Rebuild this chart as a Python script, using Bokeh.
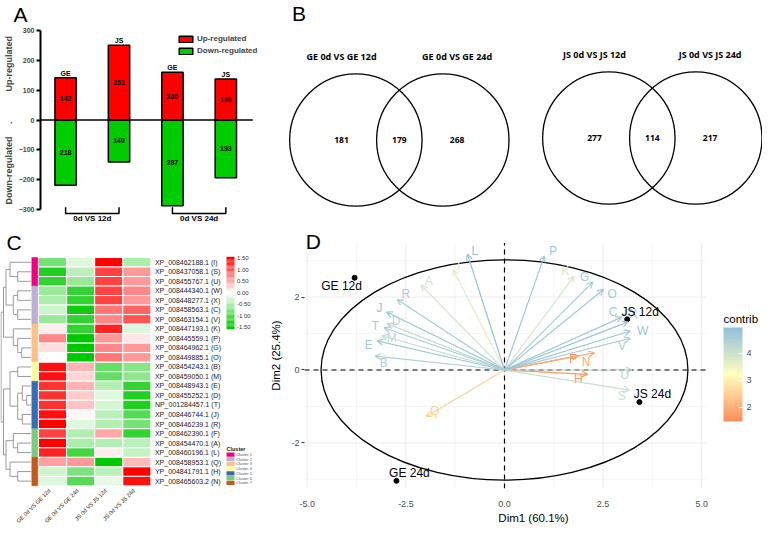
import numpy as np
from bokeh.plotting import figure
from bokeh.models import (Range1d, ColumnDataSource, Legend, LegendItem, Arrow,
                          OpenHead, LinearColorMapper, ColorBar, FixedTicker,
                          PrintfTickFormatter, Title)
from bokeh.layouts import row, column
from bokeh.embed import file_html
from bokeh.resources import INLINE
from bokeh.core.properties import value

# ---------------- data: panel A ----------------
bar_groups = ["GE", "JS", "GE", "JS"]
bar_x = [1, 2, 3, 4]
up_regulated = [142, 251, 160, 138]
down_regulated = [218, 140, 287, 193]
comparison_labels = ["0d VS 12d", "0d VS 24d"]
y_ticks_A = [-300, -200, -100, 0, 100, 200, 300]

# ---------------- data: panel B ----------------
venn_titles_left = ["GE 0d VS GE 12d", "JS 0d VS JS 12d"]
venn_titles_right = ["GE 0d VS GE 24d", "JS 0d VS JS 24d"]
venn_only_left = [181, 277]
venn_overlap = [179, 114]
venn_only_right = [268, 217]

# ---------------- data: panel C ----------------
heat_columns = ["GE 0d VS GE 12d", "GE 0d VS GE 24d", "JS 0d VS JS 12d", "JS 0d VS JS 24d"]
heat_genes = ["XP_008462188.1 (I)", "XP_008437058.1 (S)", "XP_008455767.1 (U)",
              "XP_008444340.1 (W)", "XP_008448277.1 (X)", "XP_008458563.1 (C)",
              "XP_008463154.1 (V)", "XP_008447193.1 (K)", "XP_008445559.1 (P)",
              "XP_008464962.1 (G)", "XP_008449885.1 (O)", "XP_008454243.1 (B)",
              "XP_008459050.1 (M)", "XP_008448943.1 (E)", "XP_008455252.1 (D)",
              "NP_001284457.1 (T)", "XP_008446744.1 (J)", "XP_008446239.1 (R)",
              "XP_008462390.1 (F)", "XP_008454470.1 (A)", "XP_008460196.1 (L)",
              "XP_008458953.1 (Q)", "YP_004841791.1 (H)", "XP_008465603.2 (N)"]
heat_cluster = [1, 1, 1, 2, 2, 2, 2, 3, 3, 3, 3, 4, 4, 5, 5, 5, 5, 5, 6, 6, 6, 7, 7, 7]
heat_values = [
    [-0.8, -0.2, 1.5, -0.5],
    [-1.3, -0.4, 1.1, 0.6],
    [-1.2, -0.6, 1.1, 0.6],
    [-0.6, -1.2, 1.1, 0.7],
    [-0.5, -1.2, 1.1, 0.6],
    [-0.3, -1.4, 0.8, 0.9],
    [-0.6, -1.2, 0.7, 1.0],
    [0.1, -1.2, 1.3, -0.2],
    [0.7, -1.5, 0.6, 0.15],
    [0.2, -1.5, 0.7, 0.6],
    [0.0, -1.5, 0.8, 0.6],
    [1.4, 0.45, -0.9, -0.7],
    [1.4, 0.25, -0.9, -0.65],
    [1.2, 0.45, -0.45, -1.2],
    [1.2, 0.3, -0.2, -1.3],
    [1.2, 0.35, -0.25, -1.3],
    [1.4, 0.05, -0.4, -1.0],
    [1.5, -0.2, -0.45, -0.8],
    [1.1, -0.45, 0.5, -1.2],
    [1.5, -0.5, -0.45, -0.4],
    [1.3, -1.1, 0.1, -0.35],
    [0.55, 0.6, -1.5, 0.4],
    [-0.3, -0.75, -0.4, 1.5],
    [-0.2, -1.0, -0.15, 1.4],
]
# dendrogram merges (ids 0-23 are rows, 24+ are merges in order)
dendro_left = [1, 0, 3, 5, 26, 25, 9, 8, 7, 29, 11, 14, 13, 16, 36, 34, 19, 18, 22, 21, 41, 39, 33]
dendro_right = [2, 24, 4, 6, 27, 28, 10, 30, 31, 32, 12, 15, 35, 17, 37, 38, 20, 40, 23, 42, 43, 44, 45]
dendro_height = [13.3, 21, 13.3, 13.3, 17.7, 25, 9.3, 13.3, 17.7, 27.5, 13.3, 4.3, 8.7, 8.7,
                 13.3, 21, 13.3, 17.7, 13.3, 21, 25, 27.5, 30]
cluster_names = ["Cluster 1", "Cluster 2", "Cluster 3", "Cluster 4", "Cluster 5", "Cluster 6", "Cluster 7"]
cluster_colors = ["#F0027F", "#BEAED4", "#FDC086", "#FFFF99", "#386CB0", "#7FC97F", "#BF5B17"]
heat_legend_ticks = [1.5, 1.0, 0.5, 0.0, -0.5, -1.0, -1.5]

# ---------------- data: panel D ----------------
pca_var_names = ["A", "B", "C", "D", "E", "F", "G", "H", "I", "J", "K", "L",
                 "M", "N", "O", "P", "Q", "R", "S", "T", "U", "V", "W", "X"]
pca_var_x = [-2.11, -3.28, 2.97, -2.97, -3.23, 1.87, 2.24, 2.11, -1.30, -2.99, 1.76, -0.94,
             -3.11, 2.28, 2.51, 1.01, -1.99, -2.72, 3.17, -3.05, 3.23, 3.19, 3.19, 3.13]
pca_var_y = [2.32, 0.38, 1.45, 1.27, 0.80, 0.39, 2.41, -0.12, 2.75, 1.59, 2.57, 3.18,
             0.94, 0.47, 2.21, 3.13, -1.28, 1.93, -0.55, 1.16, 0.00, 0.87, 1.07, 1.32]
pca_var_contrib = [3.9, 4.5, 4.7, 4.3, 4.7, 1.5, 4.6, 1.6, 3.7, 4.8, 3.9, 4.9,
                   4.2, 1.9, 4.7, 4.8, 2.5, 4.6, 4.1, 4.6, 4.3, 4.6, 4.8, 4.8]
pca_var_label_x = [-1.92, -3.06, 2.75, -2.75, -3.44, 1.73, 2.03, 1.87, -1.16, -3.17, 1.54, -0.75,
                   -2.86, 2.07, 2.73, 1.23, -1.77, -2.50, 2.97, -3.27, 3.05, 2.98, 3.50, 3.27]
pca_var_label_y = [2.44, 0.20, 1.58, 1.33, 0.69, 0.31, 2.56, -0.25, 2.86, 1.70, 2.72, 3.27,
                   0.87, 0.23, 2.08, 3.27, -1.13, 2.08, -0.70, 1.21, -0.13, 0.67, 1.07, 1.54]
pca_ind_names = ["GE 12d", "GE 24d", "JS 12d", "JS 24d"]
pca_ind_x = [-3.80, -2.74, 3.11, 3.42]
pca_ind_y = [2.53, -3.04, 1.39, -0.88]
pca_ind_label_x = [-4.13, -2.41, 3.44, 3.75]
pca_ind_label_y = [2.30, -2.82, 1.59, -0.66]
pca_x_ticks = [-5.0, -2.5, 0.0, 2.5, 5.0]
pca_x_minor = [-3.75, -1.25, 1.25, 3.75]
pca_y_ticks = [-2, 0, 2]
pca_y_minor = [-3, -1, 1, 3]
contrib_ticks = [2, 3, 4]


def ramp(colors, n):
    cs = [tuple(int(c[i:i + 2], 16) for i in (1, 3, 5)) for c in colors]
    out = []
    for k in range(n):
        t = k / (n - 1) * (len(cs) - 1)
        i = min(int(t), len(cs) - 2)
        f = t - i
        rgb = [int(round(cs[i][m] + (cs[i + 1][m] - cs[i][m]) * f)) for m in range(3)]
        out.append("#%02x%02x%02x" % tuple(rgb))
    return out


SANS = "Liberation Sans"
NB = "\u00a0"

# ======================= Panel A =======================
pA = figure(width=260, height=222, x_range=Range1d(0.53, 4.649), y_range=Range1d(-343, 316.8),
            x_axis_type=None, output_backend="svg", toolbar_location=None,
            min_border_left=31, min_border_right=0, min_border_top=0, min_border_bottom=0)
pA.title = Title(text="A", align="left", offset=-27, standoff=0, text_font=SANS,
                 text_font_size="21px", text_font_style="normal", text_color="black")
pA.outline_line_color = None
pA.ygrid.visible = False
ya = pA.yaxis[0]
ya.ticker = FixedTicker(ticks=y_ticks_A)
ya.bounds = (-300, 300)
ya.axis_line_width = 2
ya.major_tick_line_width = 2
ya.major_tick_out = 4
ya.major_tick_in = 0
ya.minor_tick_line_color = None
ya.major_label_text_font = SANS
ya.major_label_text_font_style = "bold"
ya.major_label_text_font_size = "7px"
ya.major_label_standoff = 2
ya.axis_label = NB * 3 + "Down-regulated" + NB * 5 + "." + NB * 12 + "Up-regulated"
ya.axis_label_text_font = SANS
ya.axis_label_text_font_style = "bold"
ya.axis_label_text_font_size = "9px"
ya.axis_label_standoff = 2

srcA = ColumnDataSource(dict(
    x=bar_x, up=up_regulated, down=[-d for d in down_regulated], grp=bar_groups,
    up_lbl=[str(v) for v in up_regulated], down_lbl=[str(v) for v in down_regulated],
    up_mid=[v / 2 for v in up_regulated], down_mid=[-d / 2 for d in down_regulated],
    grp_y=[v + 3 for v in up_regulated]))
r_up = pA.vbar(x="x", width=0.4, top="up", bottom=0, source=srcA,
               fill_color="#FF0000", line_color="black", line_width=1.5)
r_dn = pA.vbar(x="x", width=0.4, top=0, bottom="down", source=srcA,
               fill_color="#00CC00", line_color="black", line_width=1.5)
pA.segment(x0=[0.53], y0=[0], x1=[4.505], y1=[0], line_color="black", line_width=1.5)
for col, yname in (("up_lbl", "up_mid"), ("down_lbl", "down_mid")):
    pA.text(x="x", y=yname, text=col, source=srcA, text_align="center", text_baseline="middle",
            text_font=value(SANS), text_font_style="bold", text_font_size="7px", text_color="black")
pA.text(x="x", y="grp_y", text="grp", source=srcA, text_align="center", text_baseline="bottom",
        text_font=value(SANS), text_font_style="bold", text_font_size="7px", text_color="black")

br_xs, br_ys, br_tx = [], [], []
for i in range(len(comparison_labels)):
    xa, xb = bar_x[2 * i], bar_x[2 * i + 1]
    br_xs.append([xa, xa, xb, xb])
    br_ys.append([-292, -313, -313, -292])
    br_tx.append((xa + xb) / 2)
pA.multi_line(br_xs, br_ys, line_color="black", line_width=1.5)
pA.text(x=br_tx, y=[-329] * len(br_tx), text=comparison_labels, text_align="center",
        text_baseline="middle", text_font=value(SANS), text_font_style="bold",
        text_font_size="8px", text_color="black")

legA = Legend(items=[LegendItem(label="Up-regulated", renderers=[r_up]),
                     LegendItem(label="Down-regulated", renderers=[r_dn])],
              location=(137, 167), border_line_color=None, background_fill_alpha=0,
              padding=0, margin=0, spacing=3, glyph_width=17, glyph_height=8,
              label_height=8, label_width=72, label_standoff=3, label_text_font=SANS,
              label_text_font_style="bold", label_text_font_size="8px")
pA.add_layout(legA)

# ======================= Panel B =======================
pB = figure(width=502, height=222, x_range=Range1d(271, 779), y_range=Range1d(222, 0),
            x_axis_type=None, y_axis_type=None, output_backend="svg",
            toolbar_location=None, min_border=0)
pB.outline_line_color = None
venn_cx = [367.5, 623.5]
venn_cy = [139.5, 137.5]
venn_gap = 88
venn_r = 67
cx_all, cy_all = [], []
for cx, cy in zip(venn_cx, venn_cy):
    cx_all += [cx, cx + venn_gap]
    cy_all += [cy, cy]
pB.circle(x=cx_all, y=cy_all, radius=venn_r, fill_alpha=0, line_color="black", line_width=1.3)
tx, ty, tt = [], [], []
nx, ny, nt = [], [], []
for k, (cx, cy) in enumerate(zip(venn_cx, venn_cy)):
    tx += [cx - 14.5, cx + venn_gap + 14.5]
    ty += [cy - 84, cy - 84]
    tt += [venn_titles_left[k], venn_titles_right[k]]
    nx += [cx - 14.5, cx + venn_gap / 2, cx + venn_gap + 14.5]
    ny += [cy, cy, cy]
    nt += [str(venn_only_left[k]), str(venn_overlap[k]), str(venn_only_right[k])]
pB.text(x=tx, y=ty, text=tt, text_align="center", text_baseline="middle",
        text_font=value("Open Sans"), text_font_style="bold", text_font_size="9px", text_color="black")
pB.text(x=nx, y=ny, text=nt, text_align="center", text_baseline="middle",
        text_font=value("Open Sans"), text_font_style="bold", text_font_size="8.5px", text_color="black")
pB.text(x=[303], y=[1], text=["B"], text_align="left", text_baseline="top",
        text_font=value(SANS), text_font_size="21px", text_color="black")

# ======================= Panel C =======================
pC = figure(width=260, height=304, x_range=Range1d(6, 266), y_range=Range1d(538, 222),
            x_axis_type=None, y_axis_type=None, output_backend="svg",
            toolbar_location=None, min_border=0)
pC.outline_line_color = None
heat_x0, cell_w = 44.0, 28.1
heat_y0, cell_h = 258.4, 9.89
leaf_x = 36.5
heat_palette = ramp(["#00C800", "#FFFFFF", "#FF0000"], 255)
heat_mapper = LinearColorMapper(palette=heat_palette, low=-1.5, high=1.5)
cl, cr, ct, cb_, cv = [], [], [], [], []
for i, rowv in enumerate(heat_values):
    for j, v in enumerate(rowv):
        cl.append(heat_x0 + j * cell_w)
        cr.append(heat_x0 + (j + 1) * cell_w)
        ct.append(heat_y0 + i * cell_h)
        cb_.append(heat_y0 + (i + 1) * cell_h)
        cv.append(v)
heat_src = ColumnDataSource(dict(l=cl, r=cr, t=ct, b=cb_, v=cv))
pC.quad(left="l", right="r", top="t", bottom="b", source=heat_src,
        fill_color={"field": "v", "transform": heat_mapper}, line_color="white", line_width=1)
n_rows = len(heat_genes)
row_top = [heat_y0 + i * cell_h for i in range(n_rows)]
row_bot = [heat_y0 + (i + 1) * cell_h for i in range(n_rows)]
row_col = [cluster_colors[c - 1] for c in heat_cluster]
pC.quad(left=[37.3] * n_rows, right=[43.3] * n_rows, top=row_top, bottom=row_bot,
        fill_color=row_col, line_color=row_col, line_width=0.5)
row_mid = [heat_y0 + (i + 0.5) * cell_h for i in range(n_rows)]
pC.text(x=[heat_x0 + 4 * cell_w + 4] * n_rows, y=row_mid, text=heat_genes, text_align="left",
        text_baseline="middle", text_font=value(SANS), text_font_size="7px", text_color="#222222")
col_mid = [heat_x0 + (j + 0.5) * cell_w - 3 for j in range(len(heat_columns))]
pC.text(x=col_mid, y=[heat_y0 + n_rows * cell_h + 4] * len(col_mid), text=heat_columns,
        angle=np.pi / 4, text_align="right", text_baseline="middle",
        text_font=value(SANS), text_font_size="5.6px", text_color="#222222")
node_y = {i: row_mid[i] for i in range(n_rows)}
node_h = {i: 0.0 for i in range(n_rows)}
dx0, dy0, dx1, dy1 = [], [], [], []
for k, (a, b, h) in enumerate(zip(dendro_left, dendro_right, dendro_height)):
    nid = n_rows + k
    xh = leaf_x - h
    dx0 += [xh, xh, xh]
    dy0 += [node_y[a], node_y[a], node_y[b]]
    dx1 += [xh, leaf_x - node_h[a], leaf_x - node_h[b]]
    dy1 += [node_y[b], node_y[a], node_y[b]]
    node_y[nid] = (node_y[a] + node_y[b]) / 2
    node_h[nid] = h
pC.segment(x0=dx0, y0=dy0, x1=dx1, y1=dy1, line_color="#9a9a9a", line_width=1)
lg_top, lg_bot = 1.56, -1.58
steps = 60
lv = [lg_top - (lg_top - lg_bot) * (s + 0.5) / steps for s in range(steps)]
ly_t = [295 - (lg_top - (lg_top - lg_bot) * s / steps) * 24 for s in range(steps)]
ly_b = [295 - (lg_top - (lg_top - lg_bot) * (s + 1) / steps) * 24 for s in range(steps)]
leg_src = ColumnDataSource(dict(l=[232] * steps, r=[240] * steps, t=ly_t, b=ly_b, v=lv))
pC.quad(left="l", right="r", top="t", bottom="b", source=leg_src,
        fill_color={"field": "v", "transform": heat_mapper}, line_color=None)
pC.text(x=[242.5] * len(heat_legend_ticks), y=[295 - t * 24 for t in heat_legend_ticks],
        text=["%.2f" % t for t in heat_legend_ticks], text_align="left", text_baseline="middle",
        text_font=value(SANS), text_font_size="6px", text_color="#333333")
pC.text(x=[232], y=[457.5], text=["Cluster"], text_align="left", text_baseline="middle",
        text_font=value(SANS), text_font_style="bold", text_font_size="5.5px", text_color="#222222")
kk = range(len(cluster_names))
pC.quad(left=[232] * 7, right=[240] * 7, top=[461 + k * 4.9 for k in kk],
        bottom=[465.4 + k * 4.9 for k in kk], fill_color=cluster_colors, line_color=None)
pC.text(x=[241.5] * 7, y=[463.2 + k * 4.9 for k in kk], text=cluster_names, text_align="left",
        text_baseline="middle", text_font=value(SANS), text_font_size="4px", text_color="#555555")
pC.text(x=[12], y=[231], text=["C"], text_align="left", text_baseline="top",
        text_font=value(SANS), text_font_size="21px", text_color="black")

# ======================= Panel D =======================
xr0, xr1 = -5.07, 5.12      # panel extent
yr0, yr1 = -3.25, 3.48
pD = figure(width=502, height=304, x_range=Range1d(xr0, 6.54), y_range=Range1d(yr0, 4.045),
            output_backend="svg", toolbar_location=None,
            min_border_left=44, min_border_right=0, min_border_top=0, min_border_bottom=33)
pD.outline_line_color = None
pD.grid.visible = False
pD.xaxis.ticker = FixedTicker(ticks=pca_x_ticks)
pD.yaxis.ticker = FixedTicker(ticks=pca_y_ticks)
pD.xaxis.formatter = PrintfTickFormatter(format="%.1f")
pD.yaxis.formatter = PrintfTickFormatter(format="%d")
pD.xaxis.bounds = (xr0, xr1)
pD.yaxis.bounds = (yr0, yr1)
for ax in (pD.xaxis[0], pD.yaxis[0]):
    ax.axis_line_color = None
    ax.minor_tick_line_color = None
    ax.major_label_text_font = SANS
    ax.major_label_text_font_size = "9px"
    ax.major_label_text_color = "#4D4D4D"
    ax.axis_label_text_font = SANS
    ax.axis_label_text_font_size = "11.5px"
    ax.axis_label_text_font_style = "normal"
    ax.axis_label_text_color = "black"
pD.xaxis.major_tick_line_color = None
pD.xaxis.major_label_standoff = 6
pD.xaxis.axis_label = "Dim1 (60.1%)"
pD.xaxis.axis_label_standoff = 2
pD.yaxis.major_tick_line_color = "#333333"
pD.yaxis.major_tick_out = 3
pD.yaxis.major_tick_in = 0
pD.yaxis.major_label_standoff = 2
pD.yaxis.axis_label = "Dim2 (25.4%)"
pD.yaxis.axis_label_standoff = 6

gx = pca_x_minor + pca_x_ticks
gw = [0.5] * len(pca_x_minor) + [1.0] * len(pca_x_ticks)
pD.segment(x0=gx, y0=[yr0] * len(gx), x1=gx, y1=[yr1] * len(gx), line_color="#EBEBEB", line_width=gw)
gy = pca_y_minor + pca_y_ticks
gwy = [0.5] * len(pca_y_minor) + [1.0] * len(pca_y_ticks)
pD.segment(x0=[xr0] * len(gy), y0=gy, x1=[xr1] * len(gy), y1=gy, line_color="#EBEBEB", line_width=gwy)

pD.ellipse(x=0, y=0, width=9.3, height=6.04, fill_alpha=0, line_color="black", line_width=1.3)
pD.segment(x0=[xr0, 0], y0=[0, yr0], x1=[xr1, 0], y1=[0, yr1], line_color="black",
           line_width=1.2, line_dash="5 4")

contrib_palette = ramp(["#FC8D59", "#FFFFBF", "#91BFDB"], 256)
c_low, c_high = 1.48, 4.96
contrib_colors = [contrib_palette[int(round((v - c_low) / (c_high - c_low) * 255))]
                  for v in pca_var_contrib]
for xe, ye, col in zip(pca_var_x, pca_var_y, contrib_colors):
    pD.add_layout(Arrow(end=OpenHead(size=6, line_color=col, line_width=1.2),
                        x_start=0, y_start=0, x_end=xe, y_end=ye,
                        line_color=col, line_width=1.2))
pD.text(x=pca_var_label_x, y=pca_var_label_y, text=pca_var_names, text_color=contrib_colors,
        text_align="center", text_baseline="middle", text_font=value(SANS), text_font_size="12px")
pD.scatter(x=pca_ind_x, y=pca_ind_y, size=5, color="black")
pD.text(x=pca_ind_label_x, y=pca_ind_label_y, text=pca_ind_names, text_color="black",
        text_align="center", text_baseline="middle", text_font=value(SANS), text_font_size="12px")
pD.text(x=[xr0 + 0.03], y=[3.83], text=["D"], text_align="left", text_baseline="top",
        text_font=value(SANS), text_font_size="21px", text_color="black")

contrib_mapper = LinearColorMapper(palette=contrib_palette, low=c_low, high=c_high)
cbar = ColorBar(color_mapper=contrib_mapper, ticker=FixedTicker(ticks=contrib_ticks),
                width=19, height=94, major_label_text_font=SANS, major_label_text_font_size="9px",
                major_label_text_color="#4D4D4D", major_tick_line_color="white",
                major_tick_in=4, major_tick_out=0, label_standoff=4, bar_line_color=None,
                padding=0, margin=0, location=(419, 67), background_fill_alpha=0,
                border_line_color=None)
pD.add_layout(cbar)
pD.text(x=[5.552], y=[1.407], text=["contrib"], text_align="left", text_baseline="middle",
        text_font=value(SANS), text_font_size="11.5px", text_color="black")

layout = row(column(column(pA), column(pC)), column(column(pB), column(pD)))
open("out.html", "w").write(file_html(layout, INLINE))
